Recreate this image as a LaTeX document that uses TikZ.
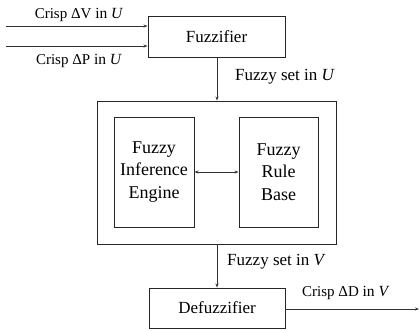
\documentclass[tikz,border=0pt]{standalone}
\usepackage{fontspec}
\setmainfont{Liberation Serif}
\usetikzlibrary{arrows.meta}
\tikzset{
  blk/.style={draw=black!85, line width=0.9pt, inner sep=0pt, align=center,
    font=\fontsize{17}{22.5}\selectfont},
  inner/.style={blk, font=\fontsize{18}{22.5}\selectfont},
  conn/.style={draw=black!80, line width=0.8pt, -{Stealth[length=4pt,width=3pt]}},
  lbl/.style={inner sep=0pt, anchor=west, font=\fontsize{17}{20}\selectfont},
  crisp/.style={inner sep=0pt, font=\fontsize{15}{17}\selectfont}
}
\begin{document}
\begin{tikzpicture}[x=1pt,y=-1pt]
  \useasboundingbox (0,0) rectangle (420,330);
  % processing blocks
  \node[blk, minimum width=137pt, minimum height=41pt] (fuzz) at (216.5,36.5) {Fuzzifier};
  \node[blk, minimum width=239pt, minimum height=143pt] (core) at (216.5,172.5) {};
  \node[inner, minimum width=80pt, minimum height=110pt] (engine) at (154,172) {Fuzzy\\Inference\\Engine};
  \node[inner, minimum width=79pt, minimum height=110pt] (rules) at (278.5,172) {Fuzzy\\Rule\\Base};
  \node[blk, minimum width=136pt, minimum height=40pt] (defuzz) at (217,308) {Defuzzifier};
  % free ends of the crisp signals
  \coordinate (inV) at (6,26);
  \coordinate (inP) at (6,46);
  \coordinate (outD) at (419,309);
  % connectors
  \draw[conn] (inV) -- (inV -| fuzz.west);
  \draw[conn] (inP) -- (inP -| fuzz.west);
  \draw[conn] (fuzz.south -| 217,0) -- (core.north -| 217,0);
  \draw[conn, {Stealth[length=4pt,width=3pt]}-{Stealth[length=4pt,width=3pt]}] (engine.east) -- (rules.west);
  \draw[conn] (core.south -| 217,0) -- (defuzz.north -| 217,0);
  \draw[conn] (defuzz.east |- outD) -- (outD);
  % labels
  \node[crisp] (lv) at (79,15) {Crisp ΔV \fontsize{15.5}{17}\selectfont in \textit{U}};
  \node[crisp] (lp) at (79,61) {Crisp ΔP \fontsize{15.5}{17}\selectfont in \textit{U}};
  \node[lbl] (lu) at (235,77) {Fuzzy set in \textit{U}};
  \node[lbl] (lvv) at (227,262) {Fuzzy set in \textit{V}};
  \node[crisp, anchor=west] (ld) at (302,293) {Crisp ΔD \fontsize{15.5}{17}\selectfont in \textit{V}};
\end{tikzpicture}
\end{document}
